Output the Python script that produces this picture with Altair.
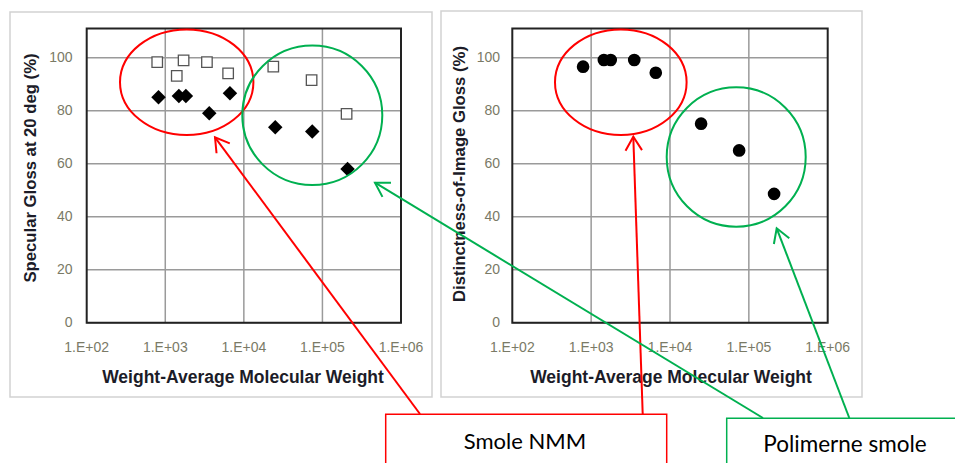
import altair as alt
import pandas as pd

# ---------------- data ----------------
mw_spec_open = [790, 1400, 1710, 3390, 6310, 23700, 72800, 203000]
gloss_spec_open = [98.3, 93.1, 99.0, 98.3, 94.1, 96.6, 91.5, 78.8]
mw_spec_filled = [820, 1490, 1830, 3630, 6650, 25100, 74200, 209000]
gloss_spec_filled = [85.1, 85.5, 85.5, 79.0, 86.6, 73.7, 72.1, 58.0]
mw_doi = [790, 1450, 1770, 3520, 6600, 24800, 75300, 209000]
gloss_doi = [96.6, 99.1, 99.1, 99.1, 94.3, 75.1, 65.0, 48.6]

y_ticks = [0, 20, 40, 60, 80, 100]
x_ticks = [100, 1000, 10000, 100000, 1000000]
x_tick_labels = ["1.E+02", "1.E+03", "1.E+04", "1.E+05", "1.E+06"]
x_grid = [1000, 10000, 100000]

x_title = "Weight-Average Molecular Weight"
y_title_left = "Specular Gloss at 20 deg (%)"
y_title_right = "Distinctness-of-Image Gloss (%)"
label_nmm = "Smole NMM"
label_poly = "Polimerne smole"

# ---------------- styling ----------------
RED = "#FF0000"
GREEN = "#00B050"
GRID = "#9a9a9a"
TICK_COLOR = "#7a7a66"
TITLE_COLOR = "#1c1c28"
X_MIN, X_MAX = 100, 1e6
Y_MIN, Y_MAX = 0, 111

ONE = alt.Data(values=[{}])

df_yt = pd.DataFrame({"v": y_ticks})
df_xt = pd.DataFrame({"v": x_ticks, "lab": x_tick_labels})
df_xg = pd.DataFrame({"v": x_grid})


def ellipse_path(k):
    c = 0.5523
    return (f"M 1 0 C 1 {c*k:.4f} {c:.4f} {k:.4f} 0 {k:.4f} "
            f"C {-c:.4f} {k:.4f} -1 {c*k:.4f} -1 0 "
            f"C -1 {-c*k:.4f} {-c:.4f} {-k:.4f} 0 {-k:.4f} "
            f"C {c:.4f} {-k:.4f} 1 {-c*k:.4f} 1 0 Z")


CHEVRON = "M -0.857 -0.515 L 0 0 L -0.857 0.515"


def panel(px0, px1, py_top, py_bottom, box, ylab_x, xlab_y, xtitle_x, xtitle_y,
          ytitle, ytitle_x, ytitle_y, series):
    xs = alt.Scale(type="log", domain=[X_MIN, X_MAX], range=[px0, px1], nice=False)
    ys = alt.Scale(type="linear", domain=[Y_MIN, Y_MAX], range=[py_bottom, py_top],
                   nice=False, zero=False)
    L = []
    # outer light-grey chart box
    L.append(alt.Chart(ONE).mark_rect(fill="white", stroke="#d2d2d2", strokeWidth=1.5).encode(
        x=alt.value(box[0]), x2=alt.value(box[1]), y=alt.value(box[2]), y2=alt.value(box[3])))
    # horizontal gridlines
    L.append(alt.Chart(df_yt).mark_rule(color=GRID, strokeWidth=1.5).encode(
        x=alt.X(datum=X_MIN, scale=xs, axis=None), x2=alt.X2(datum=X_MAX),
        y=alt.Y("v:Q", scale=ys, axis=None)))
    # vertical gridlines
    L.append(alt.Chart(df_xg).mark_rule(color=GRID, strokeWidth=1.5).encode(
        x=alt.X("v:Q", scale=xs, axis=None),
        y=alt.Y(datum=Y_MIN, scale=ys, axis=None), y2=alt.Y2(datum=Y_MAX)))
    # plot frame
    L.append(alt.Chart(ONE).mark_rect(fillOpacity=0, stroke="#222222", strokeWidth=2).encode(
        x=alt.X(datum=X_MIN, scale=xs, axis=None), x2=alt.X2(datum=X_MAX),
        y=alt.Y(datum=Y_MIN, scale=ys, axis=None), y2=alt.Y2(datum=Y_MAX)))
    # x tick labels
    L.append(alt.Chart(df_xt).mark_text(fontSize=14, font="Liberation Sans", color=TICK_COLOR,
                                        align="center", baseline="middle").encode(
        x=alt.X("v:Q", scale=xs, axis=None), y=alt.value(xlab_y), text="lab:N"))
    # y tick labels
    L.append(alt.Chart(df_yt).mark_text(fontSize=14, font="Liberation Sans", color=TICK_COLOR,
                                        align="right", baseline="middle").encode(
        x=alt.value(ylab_x), y=alt.Y("v:Q", scale=ys, axis=None), text="v:Q"))
    # axis titles
    L.append(alt.Chart(ONE).mark_text(fontSize=17.5, font="Liberation Sans", fontWeight="bold",
                                      color=TITLE_COLOR, align="center", baseline="middle").encode(
        x=alt.value(xtitle_x), y=alt.value(xtitle_y), text=alt.value(x_title)))
    L.append(alt.Chart(ONE).mark_text(fontSize=16.7, font="Liberation Sans", fontWeight="bold",
                                      color=TITLE_COLOR, align="center", baseline="middle",
                                      angle=270).encode(
        x=alt.value(ytitle_x), y=alt.value(ytitle_y), text=alt.value(ytitle)))
    # data series
    for mw, val, shape, filled, size in series:
        df = pd.DataFrame({"mw": mw, "gloss": val})
        if filled:
            mk = alt.Chart(df).mark_point(shape=shape, filled=True, color="black",
                                          opacity=1, size=size)
        else:
            mk = alt.Chart(df).mark_point(shape=shape, filled=True, fill="white",
                                          stroke="#555555", strokeWidth=1.3,
                                          opacity=1, size=size)
        L.append(mk.encode(x=alt.X("mw:Q", scale=xs, axis=None),
                           y=alt.Y("gloss:Q", scale=ys, axis=None)))
    return L


layers = []
layers += panel(86.7, 401.0, 28.5, 322.7, (10, 432, 12, 397), 72.5, 348, 243, 378,
                y_title_left, 31, 168,
                [(mw_spec_open, gloss_spec_open, "square", False, 110),
                 (mw_spec_filled, gloss_spec_filled, "diamond", True, 210)])
layers += panel(512.3, 827.7, 28.5, 322.7, (441, 862, 11, 397), 500, 348, 671, 378,
                y_title_right, 460, 174,
                [(mw_doi, gloss_doi, "circle", True, 160)])

# ---------------- annotations ----------------
def ellipse(cx, cy, rx, ry, col):
    return alt.Chart(ONE).mark_point(shape=ellipse_path(ry / rx), filled=False, color=col,
                                     strokeWidth=2, opacity=1, size=(2 * rx) ** 2).encode(
        x=alt.value(cx), y=alt.value(cy))


def arrow(x0, y0, x1, y1, ang, col):
    line = alt.Chart(ONE).mark_rule(color=col, strokeWidth=2).encode(
        x=alt.value(x0), y=alt.value(y0), x2=alt.value(x1), y2=alt.value(y1))
    head = alt.Chart(ONE).mark_point(shape=CHEVRON, filled=False, color=col, strokeWidth=2,
                                     opacity=1, size=1024).encode(
        x=alt.value(x1), y=alt.value(y1), angle=alt.value(ang))
    return [line, head]


layers += [ellipse(186.7, 82.2, 66.7, 52.8, RED),
           ellipse(312.3, 115.3, 70, 69.7, GREEN),
           ellipse(620.8, 82.2, 65.8, 52.8, RED),
           ellipse(736.2, 157, 69.5, 69.7, GREEN)]
layers += arrow(420, 414, 215, 137.3, 233.5, RED)
layers += arrow(642.7, 414, 633.3, 136.7, 268.1, RED)
layers += arrow(763, 418, 375, 182.7, 211.2, GREEN)
layers += arrow(849.3, 418, 776.7, 228.3, 249.1, GREEN)

# label boxes
layers.append(alt.Chart(ONE).mark_rect(fill="white", stroke=RED, strokeWidth=1.5).encode(
    x=alt.value(385.7), x2=alt.value(666.7), y=alt.value(414.3), y2=alt.value(480)))
layers.append(alt.Chart(ONE).mark_rect(fill="white", stroke=GREEN, strokeWidth=1.5).encode(
    x=alt.value(726.7), x2=alt.value(980), y=alt.value(418.3), y2=alt.value(480)))
layers.append(alt.Chart(ONE).mark_text(fontSize=22, font="Lato", color="black",
                                       align="center", baseline="middle").encode(
    x=alt.value(525), y=alt.value(442), text=alt.value(label_nmm)))
layers.append(alt.Chart(ONE).mark_text(fontSize=22.5, font="Lato", color="black",
                                       align="center", baseline="middle").encode(
    x=alt.value(845), y=alt.value(445), text=alt.value(label_poly)))

chart = alt.layer(*layers).resolve_scale(x="independent", y="independent").properties(
    width=955, height=463, padding=0,
    autosize=alt.AutoSizeParams(type="none"),
    background="white",
).configure_view(stroke=None)

chart.save("out.html", embed_options={"renderer": "svg", "actions": False})
